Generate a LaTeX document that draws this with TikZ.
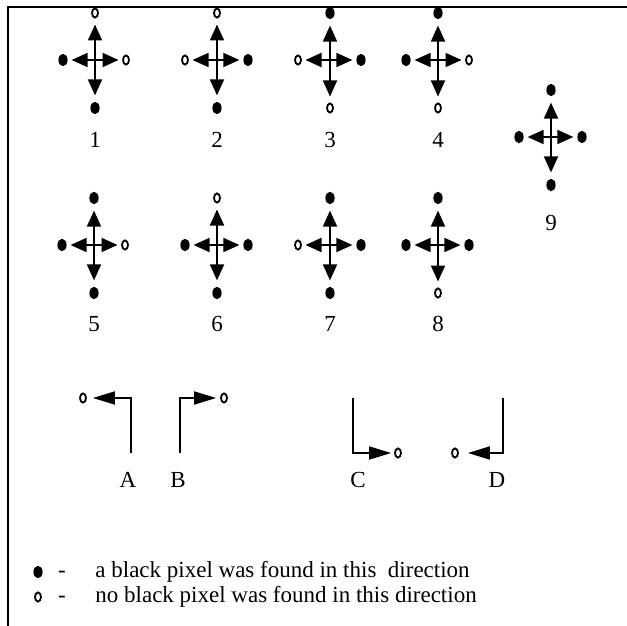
\documentclass[tikz,border=0pt]{standalone}
\usepackage{fontspec}
\setmainfont{Liberation Serif}
\usetikzlibrary{arrows.meta,shapes.geometric,positioning}

\tikzset{
    found/.style={ellipse, fill, inner sep=0pt, minimum width=4.6pt, minimum height=6.2pt},
    nofound/.style={ellipse, draw, line width=0.9pt, inner sep=0pt, minimum width=3pt, minimum height=4.6pt},
    dir/.style={-{Triangle[length=8pt,width=7pt]}, line width=0.9pt},
    turn/.style={-{Triangle[length=11pt,width=6.5pt]}, line width=0.9pt},
    every node/.style={font=\fontsize{11.5}{13.8}\selectfont},
}

% #1,#2 centre, #3 up, #4 left, #5 right, #6 down, #7 name, #8 label offset
\newcommand{\pixdirs}[8]{%
    \begin{scope}[shift={(#1,#2)}]
        \coordinate (c#7) at (0,0);
        \node[#3] (up#7) at (0,-47) {};
        \node[#4] (lt#7) at (-32,0) {};
        \node[#5] (rt#7) at (31,0) {};
        \node[#6] (dn#7) at (0,48) {};
        \draw[dir, shorten >=3pt] (c#7) -- (up#7);
        \draw[dir, shorten >=3pt] (c#7) -- (dn#7);
        \draw[dir, shorten >=1.8pt] (c#7) -- (lt#7);
        \draw[dir, shorten >=1.8pt] (c#7) -- (rt#7);
        \node (n#7) at (0,#8) {#7};
    \end{scope}}

\begin{document}
\begin{tikzpicture}[x=0.5pt,y=-0.5pt]
    \useasboundingbox (0,0) rectangle (627,626);
    \draw[line width=1pt] (8,626) -- (8,7) -- (627,7);

    \pixdirs{95}{60}{nofound}{found}{nofound}{found}{1}{80}
    \pixdirs{217}{60}{nofound}{nofound}{found}{found}{2}{80}
    \pixdirs{330}{60}{found}{nofound}{found}{nofound}{3}{80}
    \pixdirs{438}{60}{found}{found}{nofound}{nofound}{4}{80}
    \pixdirs{94}{245}{found}{found}{nofound}{found}{5}{79}
    \pixdirs{217}{245}{nofound}{found}{found}{found}{6}{79}
    \pixdirs{330}{245}{found}{nofound}{found}{found}{7}{79}
    \pixdirs{438}{245}{found}{found}{found}{nofound}{8}{79}
    \pixdirs{551}{137}{found}{found}{found}{found}{9}{86}

    % corners
    \coordinate (baseA) at (131,453);
    \node[nofound] (endA) at (83,398) {};
    \draw[turn, shorten >=3pt] (baseA) |- (endA);
    \node (labA) at (128,480) {A};

    \coordinate (baseB) at (180,453);
    \node[nofound] (endB) at (224,398) {};
    \draw[turn, shorten >=2pt] (baseB) |- (endB);
    \node (labB) at (178,480) {B};

    \coordinate (baseC) at (353,398);
    \node[nofound] (endC) at (398,453) {};
    \draw[turn, shorten >=1.5pt] (baseC) |- (endC);
    \node (labC) at (358,480) {C};

    \coordinate (baseD) at (503,398);
    \node[nofound] (endD) at (455,453) {};
    \draw[turn, shorten >=4.5pt] (baseD) |- (endD);
    \node (labD) at (497,480) {D};

    % legend
    \node[found] (keyF) at (38,572) {};
    \node (dashF) at (62,574) {-};
    \node[anchor=west, inner sep=0pt] (txtF) at (95,572) {a black pixel was found in this\ \ direction};
    \node[nofound] (keyN) at (38,597) {};
    \node (dashN) at (62,599) {-};
    \node[anchor=west, inner sep=0pt] (txtN) at (95,597) {no black pixel was found in this direction};
\end{tikzpicture}
\end{document}
